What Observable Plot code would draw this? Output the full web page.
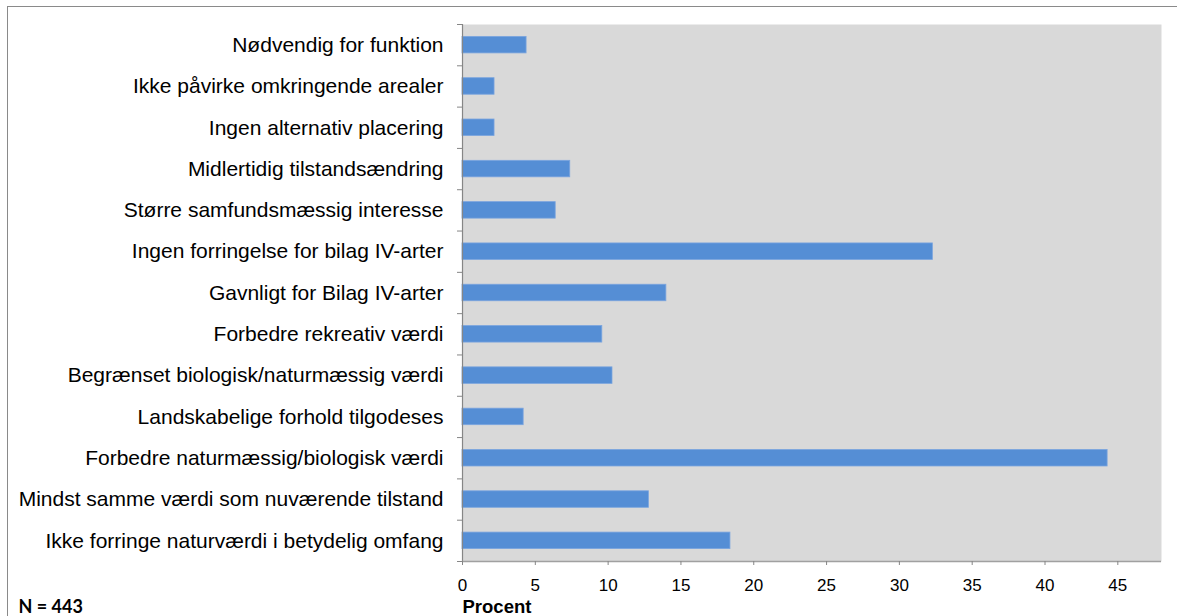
<!DOCTYPE html>
<html>
<head>
<meta charset="utf-8">
<script src="https://cdn.jsdelivr.net/npm/d3@7"></script>
<script src="https://cdn.jsdelivr.net/npm/@observablehq/plot@0.6"></script>
<style>
  html, body { margin: 0; padding: 0; background: #fff; overflow: hidden; }
  #wrap { position: relative; width: 1177px; height: 616px; overflow: hidden; }
  #border { position: absolute; left: 7px; top: 6px; width: 1240px; height: 720px; border: 1px solid #8a8a8a; box-sizing: border-box; pointer-events: none; }
  #chart { position: absolute; left: 0; top: 0; }
</style>
</head>
<body>
<div id="wrap">
  <div id="chart"></div>
  <div id="border"></div>
</div>
<script>
const categories = [
  "Nødvendig for funktion",
  "Ikke påvirke omkringende arealer",
  "Ingen alternativ placering",
  "Midlertidig tilstandsændring",
  "Større samfundsmæssig interesse",
  "Ingen forringelse for bilag IV-arter",
  "Gavnligt for Bilag IV-arter",
  "Forbedre rekreativ værdi",
  "Begrænset biologisk/naturmæssig værdi",
  "Landskabelige forhold tilgodeses",
  "Forbedre naturmæssig/biologisk værdi",
  "Mindst samme værdi som nuværende tilstand",
  "Ikke forringe naturværdi i betydelig omfang"
];
const values = [4.4, 2.2, 2.2, 7.4, 6.4, 32.3, 14.0, 9.6, 10.3, 4.2, 44.3, 12.8, 18.4];
const xTicks = [0, 5, 10, 15, 20, 25, 30, 35, 40, 45];
const xMax = 48;
const xLabel = "Procent";
const nLabel = "N = 443";

const data = categories.map((c, i) => ({ category: c, index: i, value: values[i] }));
const n = categories.length;

const chart = Plot.plot({
  width: 1177,
  height: 616,
  marginLeft: 462,
  marginRight: 16,
  marginTop: 24,
  marginBottom: 55,
  style: { fontFamily: "'Liberation Sans', Arial, sans-serif", fontSize: "16px", color: "#000", background: "transparent" },
  x: { domain: [0, xMax] },
  y: { domain: [n, 0] },
  marks: [
    Plot.frame({ fill: "#d9d9d9", stroke: null }),
    Plot.rectX(data, {
      x1: 0, x2: "value",
      y1: d => d.index + 0.3, y2: d => d.index + 0.7,
      fill: "#558ed5", stroke: "#7ba5df", strokeWidth: 0.8
    }),
    Plot.ruleX([0], { stroke: "#868686", strokeWidth: 1.2 }),
    Plot.ruleY([n], { stroke: "#a0a0a0", strokeWidth: 1.5 }),
    Plot.axisY(d3.range(0, n + 1), { tickSize: 5, tickFormat: () => "", stroke: "#868686", label: null }),
    Plot.axisY(d3.range(n).map(i => i + 0.5), {
      tickSize: 0, tickPadding: 19, fontSize: 21,
      tickFormat: v => categories[Math.round(v - 0.5)], label: null
    }),
    Plot.axisX(xTicks, { tickSize: 4, tickPadding: 13, stroke: "#868686", fontSize: 17, label: null }),
    Plot.text([xLabel], {
      frameAnchor: "bottom-left", text: d => d, dy: 51, textAnchor: "start",
      lineAnchor: "bottom", fontWeight: "bold", fontSize: 18.5
    }),
    Plot.text([nLabel], {
      frameAnchor: "bottom-left", text: d => d, dx: -444, dy: 51, textAnchor: "start",
      lineAnchor: "bottom", fontWeight: "bold", fontSize: 18, fontFamily: "Lato, 'Open Sans', sans-serif"
    })
  ]
});
document.getElementById("chart").appendChild(chart);
</script>
</body>
</html>
